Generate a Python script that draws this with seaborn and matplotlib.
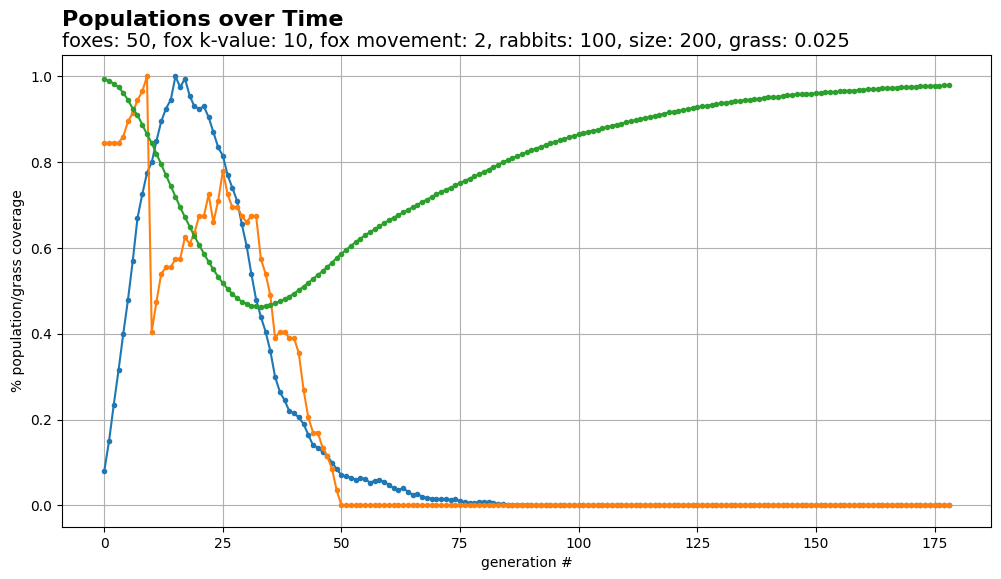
import matplotlib
matplotlib.use("Agg")
import matplotlib.pyplot as plt
import seaborn as sns
import pandas as pd

foxes = [0.08,0.15,0.235,0.315,0.40,0.48,0.57,0.67,0.725,0.775,0.80,0.85,0.895,0.925,0.945,1.0,0.975,0.995,0.955,0.93,
         0.925,0.93,0.905,0.87,0.835,0.815,0.77,0.74,0.71,0.655,0.605,0.54,0.48,0.44,0.405,0.36,0.30,0.265,0.245,0.22,
         0.215,0.205,0.19,0.165,0.14,0.135,0.125,0.115,0.10,0.085,0.07,0.068,0.065,0.06,0.063,0.062,0.053,0.058,0.06,0.055,
         0.048,0.04,0.037,0.04,0.032,0.025,0.027,0.02,0.018,0.016,0.015,0.014,0.014,0.013,0.014,0.01,0.008,0.006,0.005,0.008,
         0.009,0.008,0.005,0.004,0.003,0.002,0.002,0.002,0.002,0.002,0.001] + [0.0]*88
rabbits = [0.845,0.845,0.845,0.845,0.86,0.895,0.915,0.945,0.965,1.0,0.405,0.475,0.54,0.555,0.555,0.575,0.575,0.625,0.61,0.635,
           0.675,0.675,0.725,0.66,0.71,0.78,0.725,0.695,0.695,0.675,0.66,0.675,0.675,0.575,0.54,0.49,0.39,0.405,0.405,0.39,
           0.39,0.355,0.27,0.205,0.17,0.17,0.135,0.115,0.085,0.035] + [0.0]*129
grass = [0.995,0.99,0.983,0.975,0.962,0.945,0.925,0.91,0.888,0.865,0.845,0.82,0.795,0.77,0.745,0.72,0.695,0.672,0.65,0.628,
         0.607,0.587,0.568,0.55,0.533,0.518,0.505,0.493,0.483,0.475,0.47,0.466,0.464,0.463,0.464,0.467,0.471,0.476,0.481,0.487,
         0.494,0.502,0.51,0.519,0.528,0.537,0.546,0.556,0.566,0.577,0.587,0.596,0.605,0.614,0.622,0.63,0.637,0.644,0.651,0.658,
         0.665,0.671,0.677,0.683,0.689,0.695,0.701,0.707,0.713,0.719,0.725,0.731,0.736,0.741,0.746,0.752,0.757,0.762,0.767,0.772,
         0.778,0.783,0.789,0.794,0.8,0.805,0.81,0.814,0.819,0.823,0.828,0.832,0.836,0.84,0.844,0.848,0.851,0.855,0.858,0.862,
         0.865,0.868,0.871,0.874,0.876,0.879,0.882,0.885,0.888,0.89,0.893,0.896,0.898,0.901,0.903,0.906,0.908,0.911,0.913,0.916,
         0.918,0.92,0.922,0.924,0.926,0.928,0.93,0.932,0.934,0.935,0.937,0.939,0.94,0.942,0.943,0.945,0.946,0.947,0.948,0.95,
         0.951,0.952,0.953,0.954,0.956,0.957,0.958,0.959,0.959,0.96,0.961,0.962,0.963,0.963,0.964,0.965,0.966,0.967,0.967,0.968,
         0.969,0.97,0.97,0.971,0.972,0.973,0.973,0.974,0.975,0.975,0.976,0.976,0.977,0.977,0.978,0.978,0.978,0.979,0.979]

n = len(grass)
gen = list(range(n))
df = pd.DataFrame({"gen": gen*3,
                   "val": foxes[:n] + rabbits[:n] + grass,
                   "series": ["foxes"]*n + ["rabbits"]*n + ["grass"]*n})

fig, ax = plt.subplots(figsize=(10.01, 5.79), dpi=100)
sns.lineplot(data=df, x="gen", y="val", hue="series", marker="o", markersize=4, markeredgewidth=0,
             palette=["#1f77b4", "#ff7f0e", "#2ca02c"], linewidth=1.5, legend=False, ax=ax)
ax.grid(True, color="#b0b0b0", linewidth=0.8)
ax.set_xlabel("generation #")
ax.set_ylabel("% population/grass coverage")
ax.set_xticks([0,25,50,75,100,125,150,175])
fig.text(0.062, 0.955, "Populations over Time", fontsize=16, fontweight="bold")
ax.set_title("foxes: 50, fox k-value: 10, fox movement: 2, rabbits: 100, size: 200, grass: 0.025", loc="left", fontsize=14)
fig.subplots_adjust(left=0.062, right=0.99, top=0.905, bottom=0.09)
fig.savefig("out.png")
